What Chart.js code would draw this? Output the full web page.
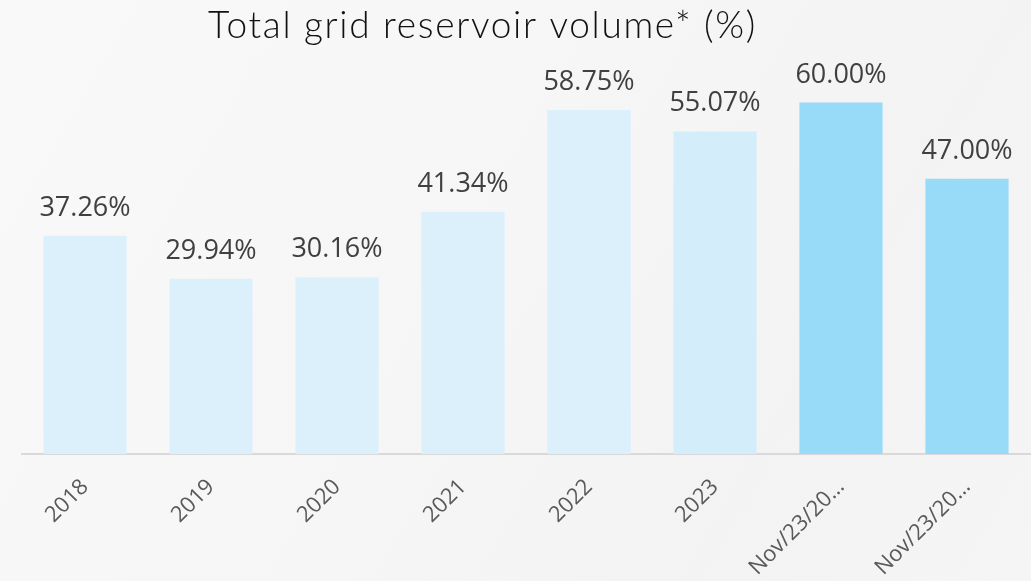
<!DOCTYPE html>
<html lang="en">
<head>
  <meta charset="UTF-8">
  <title>Total grid reservoir volume</title>
  <style>
    * { margin: 0; padding: 0; box-sizing: border-box; }
    body {
      width: 1031px;
      height: 581px;
      overflow: hidden;
      background: linear-gradient(120deg, #f9f9f9 0%, #f6f6f6 45%, #f3f3f3 75%, #f5f5f5 100%);
    }
    canvas { display: block; }
  </style>
  <script src="https://cdn.jsdelivr.net/npm/chart.js"></script>
</head>
<body>
  <canvas id="volumeChart" width="1031" height="581"></canvas>

  <script>
    // Reservoir volume by period
    const categories = ['2018', '2019', '2020', '2021', '2022', '2023', 'Nov/23/20…', 'Nov/23/20…'];
    const volumes = [37.26, 29.94, 30.16, 41.34, 58.75, 55.07, 60.00, 47.00];
    const barColors = ['#dbf0fb', '#dbf0fb', '#dbf0fb', '#dbf0fb', '#dbf0fb', '#d3eefa', '#97dbf8', '#97dbf8'];
    const chartTitle = 'Total grid reservoir volume* (%)';

    // Title text above the plot, spaced out to a fixed width
    const titlePlugin = {
      id: 'topTitle',
      afterDraw(chart) {
        const ctx = chart.ctx;
        ctx.save();
        ctx.font = '300 37px Lato, sans-serif';
        const w = ctx.measureText(chartTitle).width;
        const spacing = (549 - w) / chartTitle.length;
        ctx.letterSpacing = spacing.toFixed(2) + 'px';
        ctx.fillStyle = '#111111';
        ctx.textAlign = 'left';
        ctx.textBaseline = 'alphabetic';
        ctx.fillText(chartTitle, 208, 38);
        ctx.restore();
      }
    };

    // Value labels on top of each bar
    const valueLabels = {
      id: 'valueLabels',
      afterDatasetsDraw(chart) {
        const ctx = chart.ctx;
        const meta = chart.getDatasetMeta(0);
        ctx.save();
        ctx.font = '27px "Open Sans", sans-serif';
        ctx.fillStyle = '#404040';
        ctx.textAlign = 'center';
        ctx.textBaseline = 'alphabetic';
        meta.data.forEach((bar, i) => {
          ctx.fillText(volumes[i].toFixed(2) + '%', bar.x, bar.y - 20);
        });
        ctx.restore();
      }
    };

    const ctx = document.getElementById('volumeChart').getContext('2d');
    new Chart(ctx, {
      type: 'bar',
      data: {
        labels: categories,
        datasets: [{
          data: volumes,
          backgroundColor: barColors,
          categoryPercentage: 1,
          barPercentage: 0.66
        }]
      },
      options: {
        responsive: false,
        animation: false,
        layout: { padding: { top: 44, left: 22, right: 1, bottom: 0 } },
        plugins: {
          legend: { display: false },
          tooltip: { enabled: false }
        },
        scales: {
          x: {
            grid: { display: false },
            border: { display: true, color: '#d9d9d9', width: 2 },
            ticks: {
              color: '#595959',
              font: { family: '"Open Sans", sans-serif', size: 22 },
              minRotation: 45,
              maxRotation: 45,
              autoSkip: false,
              padding: 12
            },
            afterFit(scale) { scale.height = 127; }
          },
          y: {
            display: false,
            min: 0,
            max: 70
          }
        }
      },
      plugins: [titlePlugin, valueLabels]
    });
  </script>
</body>
</html>
